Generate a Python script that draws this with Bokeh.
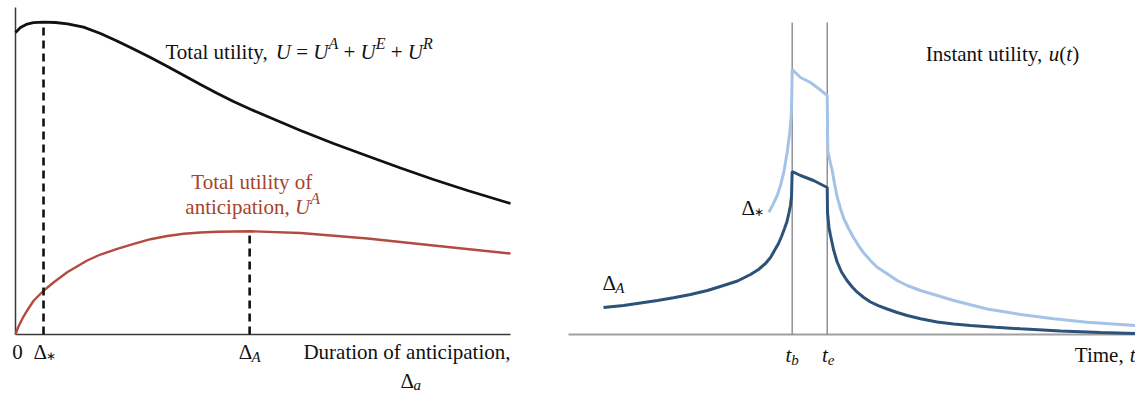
import numpy as np
from bokeh.plotting import figure
from bokeh.layouts import row
from bokeh.models import Range1d, Label
from bokeh.embed import file_html
from bokeh.resources import INLINE

# ---------------- Left panel data (duration of anticipation) ----------------
duration = [0.000, 0.101, 0.236, 0.364, 0.566, 0.808, 1.051, 1.374, 1.717, 2.051,
            2.384, 2.727, 3.071, 3.404, 3.737, 4.071, 4.404, 4.747, 5.091, 5.424,
            5.758, 6.424, 7.111, 7.778, 8.444, 9.131, 10.000]
total_utility = [9.235, 9.388, 9.495, 9.535, 9.550, 9.541, 9.502, 9.398, 9.205, 8.976,
                 8.731, 8.471, 8.196, 7.920, 7.645, 7.379, 7.125, 6.887, 6.667, 6.453,
                 6.239, 5.841, 5.459, 5.092, 4.740, 4.404, 4.006]
duration_a = [0.000, 0.051, 0.101, 0.162, 0.236, 0.370, 0.572, 0.774, 1.044, 1.448,
              1.717, 2.055, 2.390, 2.727, 3.065, 3.400, 3.737, 4.075, 4.747, 5.758,
              7.111, 8.444, 10.000]
anticipation_utility = [0.000, 0.214, 0.367, 0.550, 0.734, 1.040, 1.346, 1.599, 1.905, 2.263,
                        2.446, 2.621, 2.774, 2.914, 3.012, 3.080, 3.119, 3.144, 3.156, 3.104,
                        2.936, 2.722, 2.477]
delta_star = 0.566
delta_A = 4.73

# ---------------- Right panel data (instant utility over time) ----------------
t_b = 3.945
t_e = 4.563
event_top = 9.54
time_A = [0.617, 0.970, 1.270, 1.570, 1.852, 2.152, 2.451, 2.734, 2.981, 3.210,
          3.351, 3.474, 3.563, 3.633, 3.704, 3.757, 3.810, 3.854, 3.889, 3.915,
          3.933, 3.945, 4.092, 4.321, 4.563, 4.568, 4.594, 4.621, 4.674, 4.735,
          4.815, 4.912, 5.004, 5.092, 5.208, 5.326, 5.473, 5.621, 5.797, 5.974,
          6.208, 6.503, 6.790, 7.090, 7.531, 7.972, 8.677, 9.383, 10.000]
u_A = [0.826, 0.887, 0.963, 1.040, 1.122, 1.223, 1.346, 1.498, 1.636, 1.835,
       1.988, 2.171, 2.355, 2.569, 2.783, 2.997, 3.242, 3.456, 3.731, 3.945,
       4.220, 4.985, 4.862, 4.709, 4.495, 3.731, 3.272, 3.028, 2.599, 2.232,
       1.911, 1.651, 1.453, 1.294, 1.131, 0.994, 0.878, 0.780, 0.673, 0.581,
       0.480, 0.382, 0.321, 0.275, 0.220, 0.174, 0.107, 0.061, 0.031]
time_star = [3.533, 3.607, 3.681, 3.739, 3.797, 3.857, 3.903, 3.928, 3.938, 3.945,
             4.092, 4.268, 4.409, 4.563, 4.573, 4.621, 4.651, 4.691, 4.739, 4.797,
             4.855, 4.944, 5.032, 5.120, 5.208, 5.326, 5.444, 5.621, 5.797, 5.974,
             6.208, 6.503, 6.795, 7.090, 7.384, 7.972, 8.559, 9.148, 10.000]
u_star = [3.740, 3.976, 4.251, 4.557, 4.963, 5.575, 6.187, 6.697, 7.309, 8.104,
          7.859, 7.706, 7.523, 7.309, 5.627, 5.229, 5.015, 4.618, 4.199, 3.853,
          3.547, 3.226, 2.951, 2.706, 2.492, 2.263, 2.058, 1.856, 1.651, 1.498,
          1.346, 1.193, 1.040, 0.908, 0.780, 0.612, 0.480, 0.376, 0.275]

FONT = "Liberation Serif"
BLACK = "#111111"
RED_LINE = "#b34b40"
RED_TEXT = "#a5432c"
DARK_BLUE = "#2d5279"
LIGHT_BLUE = "#a5c3e6"
BASE_FIX = 7  # pixels

REG = {' ': 250, ',': 250, 'T': 611, 'o': 500, 't': 278, 'a': 444, 'l': 278, 'u': 500,
       'i': 278, 'y': 500, '=': 564, '+': 564, 'I': 333, 'n': 500, 's': 389, '(': 333,
       ')': 333, 'f': 333, 'c': 444, 'p': 500, 'D': 722, 'r': 333, 'e': 444, 'm': 778,
       '0': 500, 'Δ': 612, '*': 500, '∗': 500}
ITA = {'U': 722, 'A': 611, 'E': 611, 'R': 611, 'u': 500, 't': 278, 'a': 500, 'b': 500,
       'e': 444, '(': 333, ')': 333, ' ': 250}


def tw(s, italic, size):
    tab = ITA if italic else REG
    return sum(tab.get(c, REG.get(c, 500)) for c in s) * size / 1000.0


def rich(p, x, y, segs, color=BLACK, align="left", dx=0.0):
    total = sum(tw(s, it, sz) for s, it, sz, dy in segs)
    off = dx - (total / 2 if align == "center" else total if align == "right" else 0)
    for s, it, sz, dy in segs:
        lead = len(s) - len(s.lstrip(" "))
        core = s.strip(" ")
        o = off + tw(" " * lead, it, sz)
        if core:
            p.add_layout(Label(x=x, y=y, x_offset=o, y_offset=dy + BASE_FIX, text=core,
                               text_font=FONT,
                               text_font_style="italic" if it else "normal",
                               text_font_size=f"{sz}px", text_color=color,
                               text_align="left", text_baseline="alphabetic"))
        off += tw(s, it, sz)


def base_fig(width, x0, x1):
    p = figure(width=width, height=394, output_backend="svg", toolbar_location=None,
               x_axis_location=None, y_axis_location=None, title=None,
               x_range=Range1d(x0, x1), y_range=Range1d(-60 / 32.7, 10 + 7 / 32.7),
               min_border_left=0, min_border_right=0,
               min_border_top=0, min_border_bottom=0)
    p.grid.visible = False
    p.outline_line_color = None
    p.background_fill_color = "white"
    p.border_fill_color = "white"
    return p


S, N = 21, 15  # main and sub/superscript sizes
STAR = "∗"

# ---------------- Left figure ----------------
p1 = base_fig(540, -15 / 49.5, 10 + 30 / 49.5)
p1.segment(x0=[0, 0], y0=[0, 0], x1=[0, 10], y1=[10, 0],
           line_color="#3a3a3a", line_width=1.5)

p1.line(duration, total_utility, line_color=BLACK, line_width=2.8)
p1.line(duration_a, anticipation_utility, line_color=RED_LINE, line_width=2.4)
p1.segment(x0=[delta_star, delta_A], y0=[0, 0], x1=[delta_star, delta_A],
           y1=[float(np.interp(delta_star, duration, total_utility)),
               float(np.interp(delta_A, duration_a, anticipation_utility))],
           line_color=BLACK, line_width=2.6, line_dash="8 5")

rich(p1, 3.03, 8.44, [("Total utility, ", False, S, 0), ("U", True, S, 0),
                      (" = ", False, S, 0), ("U", True, S, 0), ("A", True, 16, 8),
                      (" + ", False, S, 0), ("U", True, S, 0), ("E", True, 16, 8),
                      (" + ", False, S, 0), ("U", True, S, 0), ("R", True, 16, 8)])
rich(p1, 4.79, 4.46, [("Total utility of", False, S, 0)], color=RED_TEXT, align="center")
rich(p1, 4.79, 3.70, [("anticipation, ", False, S, 0), ("U", True, S, 0),
                      ("A", True, 16, 8)], color=RED_TEXT, align="center")

yb = -0.76
rich(p1, 0, yb, [("0", False, S, 0)], align="center", dx=2)
rich(p1, delta_star, yb, [("Δ", False, S, 0), (STAR, False, 12, -4)], dx=-10)
rich(p1, delta_A, yb, [("Δ", False, S, 0), ("A", True, N, -5)], dx=-11)
rich(p1, 10, yb, [("Duration of anticipation,", False, S, 0)], align="right")
rich(p1, 7.78, -1.64, [("Δ", False, S, 0), ("a", True, N, -4)])

# ---------------- Right figure ----------------
p2 = base_fig(595, -28 / 56.7, 10)
p2.segment(x0=[0], y0=[0], x1=[10], y1=[0], line_color="#a0a0a0", line_width=2)
p2.segment(x0=[t_b, t_e], y0=[0, 0], x1=[t_b, t_e], y1=[event_top, event_top],
           line_color="#808080", line_width=1.3)
p2.line(time_star, u_star, line_color=LIGHT_BLUE, line_width=3)
p2.line(time_A, u_A, line_color=DARK_BLUE, line_width=3)

rich(p2, 6.30, 8.35, [("Instant utility, ", False, S, 0), ("u", True, S, 0),
                      ("(", False, S, 0), ("t", True, S, 0), (")", False, S, 0)])
rich(p2, 3.05, 3.64, [("Δ", False, S, 0), (STAR, False, 12, -4)])
rich(p2, 0.60, 1.35, [("Δ", False, S, 0), ("A", True, N, -5)])
yb2 = -0.83
rich(p2, t_b, yb2, [("t", True, S, 0), ("b", True, N, -5)], align="center")
rich(p2, t_e, yb2, [("t", True, S, 0), ("e", True, N, -5)], align="center", dx=1)
rich(p2, 10, yb2, [("Time, ", False, S, 0), ("t", True, S, 0)], align="right")

layout = row(p1, p2)
open("out.html", "w").write(file_html(layout, INLINE))
